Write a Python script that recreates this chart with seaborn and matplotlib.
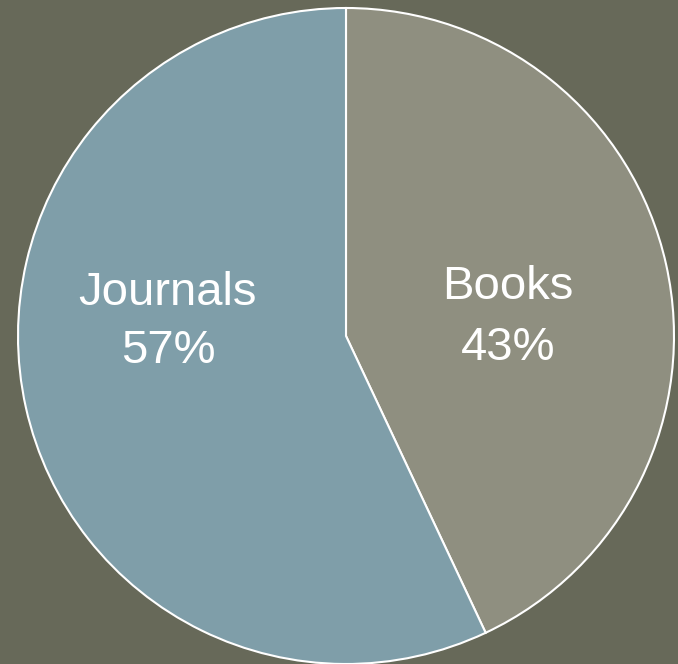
import matplotlib
matplotlib.use("Agg")
import matplotlib.pyplot as plt
import seaborn as sns

categories = ["Books", "Journals"]
shares = [43, 57]
colors = ["#8F8F80", "#7F9EA9"]
label_pos = [(0.493, 0.113, -0.073), (-0.543, 0.095, -0.082)]

sns.set_theme(style="white")
plt.rcParams["font.family"] = ["Liberation Sans", "DejaVu Sans"]

bg = "#676959"
fig = plt.figure(figsize=(6.78, 6.64), dpi=100, facecolor=bg)
ax = fig.add_axes([0, 0, 1, 1])
ax.set_facecolor(bg)

ax.pie(shares, colors=colors, startangle=90, counterclock=False,
       wedgeprops=dict(edgecolor="white", linewidth=1.5))
ax.set_xlim(-346 / 328, 332 / 328)
ax.set_ylim(-1.0, 336 / 328)
ax.set_aspect("auto")
ax.axis("off")

for cat, val, (x, y1, y2) in zip(categories, shares, label_pos):
    ax.text(x, y1, cat, ha="center", va="baseline", fontsize=34, color="white")
    ax.text(x, y2, f"{val}%", ha="center", va="baseline", fontsize=34, color="white")

fig.savefig("out.png", dpi=100, facecolor=bg)
